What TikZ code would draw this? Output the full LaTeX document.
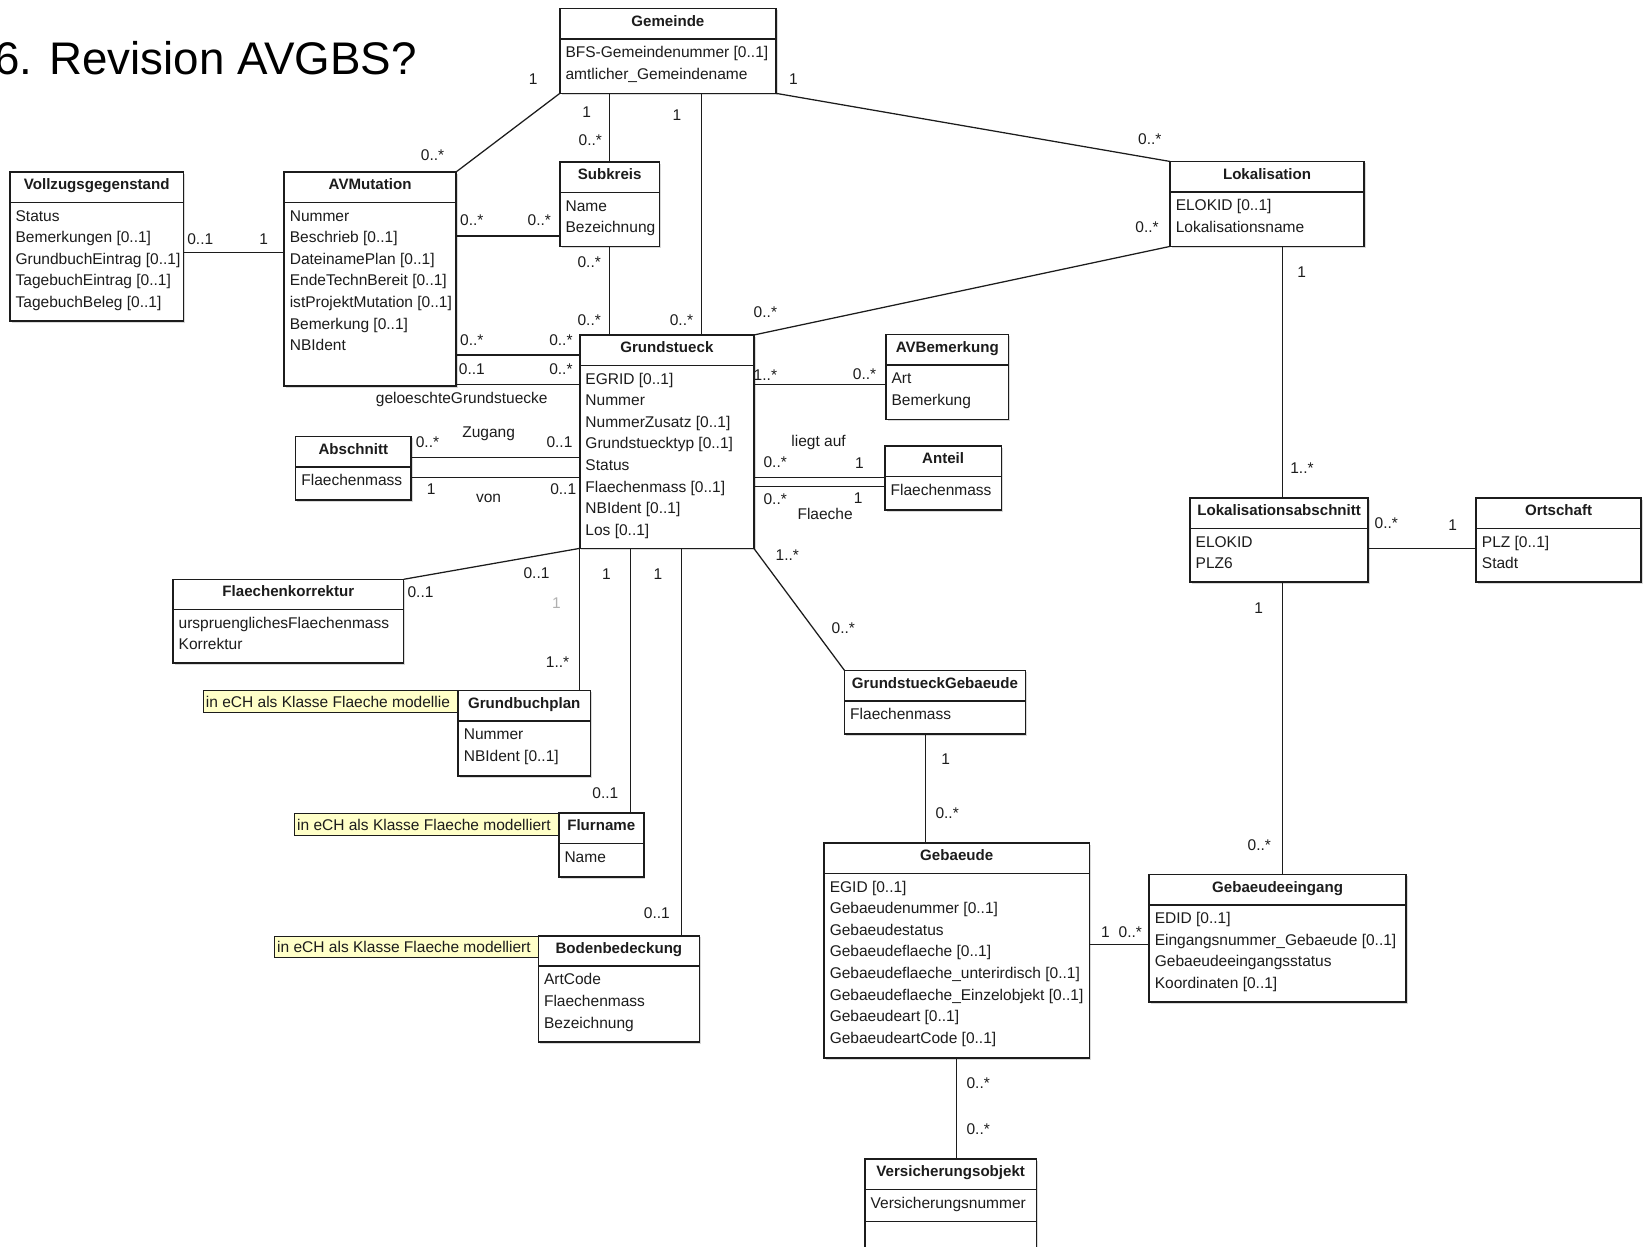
\documentclass[tikz,border=0pt]{standalone}
\usepackage{fontspec}
\setmainfont{Liberation Sans}
\usetikzlibrary{calc, shadows, positioning}
\definecolor{ink}{HTML}{1C1C1C}
\definecolor{notey}{HTML}{FFFFC8}
\definecolor{faint}{HTML}{B0B0B0}
\tikzset{
  classbox/.style={draw=ink, line width=0.75pt, fill=white, inner sep=0pt, outer sep=0pt, anchor=north west,
    drop shadow={shadow xshift=0.8pt, shadow yshift=-0.8pt, opacity=0.3}},
  ctitle/.style={font=\fontsize{7.2}{8}\selectfont\bfseries, text=ink, inner sep=0pt, text height=5.2pt, text depth=1.4pt},
  cattr/.style={font=\fontsize{7.4}{8}\selectfont, text=ink, inner sep=0pt, anchor=west, text height=5.3pt, text depth=1.5pt},
  mult/.style={font=\fontsize{7.4}{8}\selectfont, text=ink, inner sep=0pt, text height=5.3pt, text depth=1.5pt},
  assoc/.style={draw=ink, line width=0.6pt},
  notebox/.style={draw=ink, line width=0.5pt, fill=notey, inner sep=0pt, outer sep=0pt, anchor=north west}
}
% class box: name, x1, y1, x2, y2, title, attributes
\newcommand{\umlclass}[7]{%
  \node[classbox, minimum width={(#4-#2)*0.5pt}, minimum height={(#5-#3)*0.5pt}] (#1) at (#2,#3) {};
  \draw[ink, line width=0.75pt] (#2,#3+29) -- (#4,#3+29);
  \node[ctitle] (#1-t) at ({(#2+#4)/2},#3+13) {#6};
  \foreach \catt [count=\k] in {#7}{\node[cattr] (#1-\k) at (#2+5,{#3+43+(\k-1)*20.6}) {\catt};}
}

\begin{document}
\begin{tikzpicture}[x=0.5pt,y=-0.5pt]
  \useasboundingbox (0,0) rectangle (1568,1189);
  \node[font=\fontsize{21.8}{26}\selectfont, anchor=base east, inner sep=0pt] (title) at (398,71) {6. Revision AVGBS?};

  % notes
  \node[notebox, minimum width={(437-194)*0.5pt}, minimum height=10.5pt] (n1) at (194,659) {};
  \node[cattr] (n1-t) at (196,671) {in eCH als Klasse Flaeche modellie};
  \node[notebox, minimum width={(533-281)*0.5pt}, minimum height=10.5pt] (n2) at (281,776) {};
  \node[cattr] (n2-t) at (283,788) {in eCH als Klasse Flaeche modelliert};
  \node[notebox, minimum width={(514-262)*0.5pt}, minimum height=10pt] (n3) at (262,893) {};
  \node[cattr] (n3-t) at (264,904.5) {in eCH als Klasse Flaeche modelliert};

  % classes
  \umlclass{gem}{534}{8}{740}{89}{Gemeinde}{BFS-Gemeindenummer [0..1], amtlicher\_Gemeindename}
  \umlclass{vzg}{9.5}{164}{175}{306}{Vollzugsgegenstand}{Status, Bemerkungen [0..1], GrundbuchEintrag [0..1], TagebuchEintrag [0..1], TagebuchBeleg [0..1]}
  \umlclass{avm}{271}{164}{435}{368}{AVMutation}{Nummer, Beschrieb [0..1], DateinamePlan [0..1], EndeTechnBereit [0..1], istProjektMutation [0..1], Bemerkung [0..1], NBIdent}
  \umlclass{sub}{534}{154.5}{629}{235}{Subkreis}{Name, Bezeichnung}
  \umlclass{lok}{1116}{154}{1301}{235}{Lokalisation}{ELOKID [0..1], Lokalisationsname}
  \umlclass{gst}{553}{319.5}{719}{523}{Grundstueck}{EGRID [0..1], Nummer, NummerZusatz [0..1], Grundstuecktyp [0..1], Status, Flaechenmass [0..1], NBIdent [0..1], Los [0..1]}
  \umlclass{avb}{845}{319}{962}{400}{AVBemerkung}{Art, Bemerkung}
  \umlclass{abs}{282}{416.5}{392}{477}{Abschnitt}{Flaechenmass}
  \umlclass{ant}{844}{425.5}{955}{486.5}{Anteil}{Flaechenmass}
  \umlclass{fko}{165}{552.5}{385}{632.5}{Flaechenkorrektur}{urspruenglichesFlaechenmass, Korrektur}
  \umlclass{gbp}{437}{658.5}{563}{740}{Grundbuchplan}{Nummer, NBIdent [0..1]}
  \umlclass{flu}{533}{775.5}{614}{836.5}{Flurname}{Name}
  \umlclass{bod}{513.5}{892.5}{667}{994}{Bodenbedeckung}{ArtCode, Flaechenmass, Bezeichnung}
  \umlclass{gsg}{805.5}{639.5}{978}{700}{GrundstueckGebaeude}{Flaechenmass}
  \umlclass{geb}{786}{804}{1039}{1009}{Gebaeude}{EGID [0..1], Gebaeudenummer [0..1], Gebaeudestatus, Gebaeudeflaeche [0..1], Gebaeudeflaeche\_unterirdisch [0..1], Gebaeudeflaeche\_Einzelobjekt [0..1], Gebaeudeart [0..1], GebaeudeartCode [0..1]}
  \umlclass{vso}{825}{1105.5}{988.5}{1215}{Versicherungsobjekt}{Versicherungsnummer}
  \draw[ink, line width=0.75pt] ([yshift=-29.75pt]vso.north west) -- ([yshift=-29.75pt]vso.north east);
  \umlclass{gei}{1096}{834}{1341}{955.5}{Gebaeudeeingang}{EDID [0..1], Eingangsnummer\_Gebaeude [0..1], Gebaeudeeingangsstatus, Koordinaten [0..1]}
  \umlclass{lab}{1135}{475}{1305}{555}{Lokalisationsabschnitt}{ELOKID, PLZ6}
  \umlclass{ort}{1408}{475}{1565}{555}{Ortschaft}{PLZ [0..1], Stadt}

  % associations
  \draw[assoc] (gem.south west) -- (avm.north east);
  \draw[assoc] (sub.north) -- (sub.north |- gem.south);
  \draw[assoc] ([xshift=16.5pt]gst.north) -- ([xshift=16.5pt]gst.north |- gem.south);
  \draw[assoc] (gem.south east) -- (lok.north west);
  \draw[assoc] ([yshift=-2.75pt]vzg.east) -- ([yshift=-2.75pt]vzg.east -| avm.west);
  \draw[assoc] ([yshift=5pt]sub.south west) -- ([yshift=5pt]sub.south west -| avm.east);
  \draw[assoc] (sub.south) -- (sub.south |- gst.north);
  \draw[assoc] (lok.south west) -- (gst.north east);
  \foreach \dy in {-9.5pt,-23.5pt}{\draw[assoc] ([yshift=\dy]gst.north west) -- ([yshift=\dy]gst.north west -| avm.east);}
  \foreach \dy in {-9.75pt,-19.4pt}{\draw[assoc] ([yshift=\dy]abs.north east) -- ([yshift=\dy]abs.north east -| gst.west);}
  \draw[assoc] ([yshift=-24pt]avb.north west) -- ([yshift=-24pt]avb.north west -| gst.east);
  \foreach \dy in {-15pt,-19.35pt}{\draw[assoc] ([yshift=\dy]ant.north west) -- ([yshift=\dy]ant.north west -| gst.east);}
  \draw[assoc] (gst.south west) -- (fko.north east);
  \draw[assoc] (gst.south west) -- (gst.south west |- gbp.north);
  \draw[assoc] ([xshift=24.2pt]gst.south west) -- ([xshift=24.2pt]gst.south west |- flu.north);
  \draw[assoc] ([xshift=48.35pt]gst.south west) -- ([xshift=48.35pt]gst.south west |- bod.north);
  \draw[assoc] (gst.south east) -- (gsg.north west);
  \draw[assoc] ([xshift=-4.4pt]gsg.south) -- ([xshift=-4.4pt]gsg.south |- geb.north);
  \draw[assoc] (geb.south) -- (geb.south |- vso.north);
  \draw[assoc] ([yshift=2.75pt]geb.east) -- ([yshift=2.75pt]geb.east -| gei.west);
  \draw[assoc] ([xshift=1.5pt]lab.north) -- ([xshift=1.5pt]lab.north |- lok.south);
  \draw[assoc] ([yshift=-4pt]lab.east) -- ([yshift=-4pt]lab.east -| ort.west);
  \draw[assoc] ([xshift=1.5pt]lab.south) -- ([xshift=1.5pt]lab.south |- gei.north);

  % multiplicities and role names
  \foreach \lx/\ly/\lt [count=\i] in {508.5/77/1, 412.6/149/0..*, 559.6/108/1, 563/135/0..*, 645.7/111/1,
      756.7/76.5/1, 1096.6/134/0..*, 191/229/0..1, 251.6/229/1, 450/211.5/0..*, 514.4/211.5/0..*,
      562/251/0..*, 562/306.8/0..*, 650/306.8/0..*, 730/299/0..*, 1094/217.8/0..*, 1241.4/261.3/1,
      450/326/0..*, 535/326/0..*, 450/353/0..1, 535/353/0..*, 440.4/381.5/geloeschteGrundstuecke,
      730/359.2/1..*, 824.6/357.7/0..*, 466/413.3/Zugang, 407.7/422.8/0..*, 533.6/423/0..1,
      411.3/468/1, 466/475.3/von, 537.2/467.4/0..1, 780.7/422.2/liegt auf, 739.4/441.9/0..*,
      819.8/442.8/1, 739.4/477.5/0..*, 818.6/476.3/1, 787/491.2/Flaeche, 511.7/548.4/0..1,
      401.1/566/0..1, 578.5/549/1, 627.4/549/1, 531.8/632.6/1..*, 577.4/758.2/0..1, 626.5/872.7/0..1,
      750.9/531/1..*, 804.3/600.2/0..*, 901.9/725.8/1, 903.4/777.3/0..*, 933/1034.8/0..*,
      933/1078.4/0..*, 1054.4/890.2/1, 1078.1/890.2/0..*, 1241.8/447.6/1..*, 1322.2/500.7/0..*,
      1385.4/502.3/1, 1200.5/581.8/1, 1201.1/807.5/0..*}
    {\node[mult] (lbl-\i) at (\lx,\ly) {\lt};}
  \node[mult, text=faint] (lbl-grey) at (530.7,576.4) {1};
\end{tikzpicture}
\end{document}
